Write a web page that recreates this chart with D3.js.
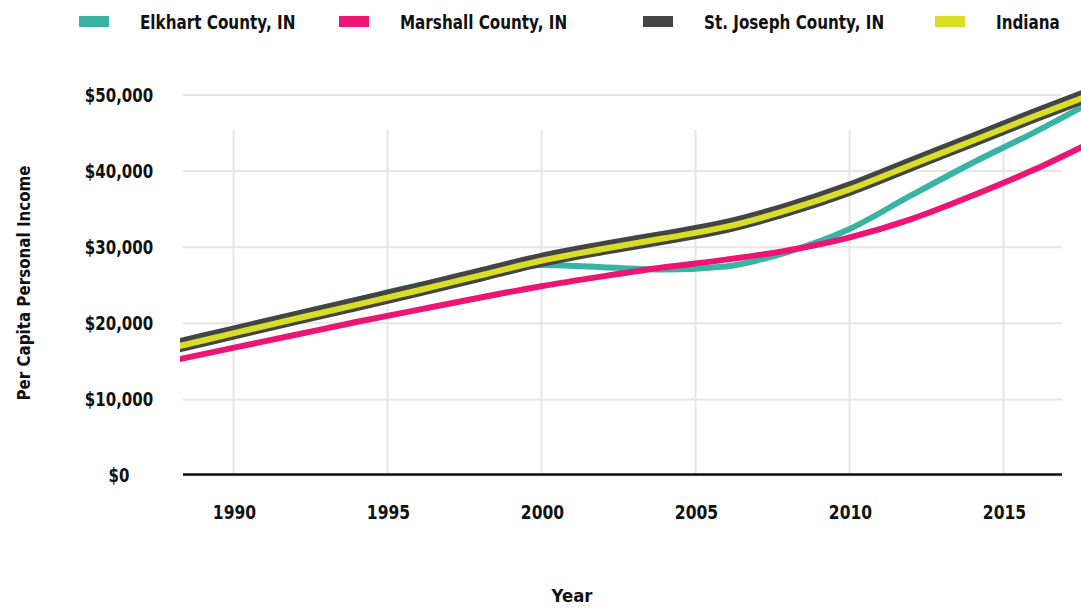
<!DOCTYPE html>
<html>
<head>
<meta charset="utf-8">
<script src="https://cdn.jsdelivr.net/npm/d3@7"></script>
<style>
	html, body { margin: 0; padding: 0; background: #fff; overflow: hidden; }
	svg { display: block; }
	text { font-family: 'DejaVu Sans', Lato, sans-serif; font-weight: bold; fill: #111; }
</style>
</head>
<body>
<svg id="chart" width="1081" height="608"></svg>
<script>
var years = [1988, 1990, 1992, 1994, 1996, 1998, 2000, 2002, 2004, 2006, 2008, 2010, 2012, 2014, 2016, 2018];

var elkhart = [16900, 19000, 21100, 23000, 24900, 26400, 27600, 27300, 27000, 27400, 29300, 32300, 36700, 41000, 45000, 49300];
var marshall = [15000, 16700, 18400, 20100, 21700, 23300, 24800, 26100, 27300, 28300, 29500, 31200, 33600, 36700, 40100, 44000];
var stJoseph = [16800, 18700, 20600, 22450, 24350, 26300, 28250, 29800, 31200, 32700, 34900, 37600, 40800, 44000, 47200, 50300];
var indiana = [16700, 18600, 20500, 22350, 24250, 26200, 28150, 29700, 31100, 32600, 34800, 37500, 40700, 43900, 47100, 50200];

var seriesNames = ['Elkhart County, IN', 'Marshall County, IN', 'St. Joseph County, IN', 'Indiana'];
var xTicks = [1990, 1995, 2000, 2005, 2010, 2015];
var yTicks = [0, 10000, 20000, 30000, 40000, 50000];

(function() {
	'use strict';
	var svg = d3.select('#chart');
	var plotLeft = 183, plotRight = 1062, plotBottom = 475, gridTop = 130;

	var colors = ['#37b4a3', '#ec1574', '#444444', '#d8de26'];
	var widths = [6, 6, 14, 6];

	// squeeze a text horizontally, the original font is a narrow one
	var squeeze = function(sel, dx, dy, sx) {
		sel.attr('x', null)
			.attr('y', null)
			.attr('transform', 'translate(' + dx + ',' + dy + ') scale(' + sx + ',1)');
	};

	var x = d3.scaleLinear()
		.domain([1990, 2015])
		.range([233, 1003]);

	var y = d3.scaleLinear()
		.domain([0, 50000])
		.range([plotBottom, 94.5]);

	// y gridlines + labels
	var yAxis = svg.append('g')
		.attr('transform', 'translate(' + plotLeft + ',0)')
		.call(d3.axisLeft(y)
			.tickValues(yTicks)
			.tickSize(-(plotRight - plotLeft))
			.tickPadding(0)
			.tickFormat(function(d) { return '$' + d3.format(',')(d); }));
	yAxis.select('.domain').remove();
	yAxis.selectAll('line')
		.attr('stroke', '#e6e6e6')
		.attr('stroke-width', 2);
	yAxis.selectAll('text')
		.attr('text-anchor', 'middle')
		.attr('dy', '0.36em')
		.style('font-size', '19px')
		.call(squeeze, 119 - plotLeft, 0, 0.79);

	// x gridlines + labels
	var xAxis = svg.append('g')
		.attr('transform', 'translate(0,' + plotBottom + ')')
		.call(d3.axisBottom(x)
			.tickValues(xTicks)
			.tickSize(-(plotBottom - gridTop))
			.tickPadding(31)
			.tickFormat(d3.format('d')));
	xAxis.select('.domain').remove();
	xAxis.selectAll('line')
		.attr('stroke', '#e6e6e6')
		.attr('stroke-width', 2);
	xAxis.selectAll('text')
		.style('font-size', '19px')
		.call(squeeze, 1, 31, 0.82);

	svg.append('line')
		.attr('x1', plotLeft)
		.attr('x2', plotRight)
		.attr('y1', plotBottom - 0.5)
		.attr('y2', plotBottom - 0.5)
		.attr('stroke', '#111')
		.attr('stroke-width', 2.5);

	svg.append('clipPath')
		.attr('id', 'clip')
		.append('rect')
		.attr('x', 180)
		.attr('y', 0)
		.attr('width', 1081 - 180)
		.attr('height', 608);

	var data = [elkhart, marshall, stJoseph, indiana].map(function(vals) {
		return vals.map(function(v, i) {
			return { year: years[i], value: v };
		});
	});

	var line = d3.line()
		.curve(d3.curveMonotoneX)
		.x(function(d) { return x(d.year); })
		.y(function(d) { return y(d.value); });

	svg.append('g')
		.attr('clip-path', 'url(#clip)')
		.selectAll('path')
		.data(data)
		.enter().append('path')
		.attr('fill', 'none')
		.attr('stroke', function(d, i) { return colors[i]; })
		.attr('stroke-width', function(d, i) { return widths[i]; })
		.attr('d', line);

	// legend
	var legendX = [79, 339, 643, 935];
	var legend = svg.selectAll('.legend')
		.data(seriesNames)
		.enter().append('g')
		.attr('class', 'legend')
		.attr('transform', function(d, i) { return 'translate(' + legendX[i] + ',0)'; });
	legend.append('rect')
		.attr('x', 0)
		.attr('y', 16)
		.attr('width', 30)
		.attr('height', 11)
		.attr('fill', function(d, i) { return colors[i]; });
	legend.append('text')
		.style('font-size', '19px')
		.text(function(d) { return d; })
		.call(squeeze, 61, 29, 0.8);

	svg.append('text')
		.attr('transform', 'translate(30,283) rotate(-90) scale(0.84,1)')
		.attr('text-anchor', 'middle')
		.style('font-size', '18px')
		.text('Per Capita Personal Income');

	svg.append('text')
		.attr('transform', 'translate(572,602) scale(0.92,1)')
		.attr('text-anchor', 'middle')
		.style('font-size', '18px')
		.text('Year');
})();
</script>
</body>
</html>
